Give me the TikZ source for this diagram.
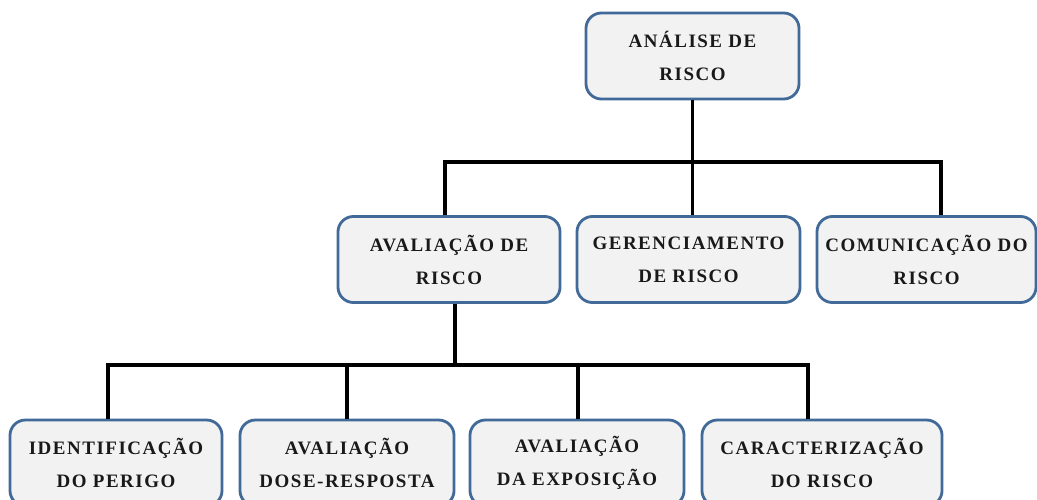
\documentclass[tikz,border=0pt]{standalone}
\usepackage{fontspec}
\setmainfont{Liberation Serif}
\definecolor{bordaazul}{RGB}{65,106,152}
\definecolor{fundocinza}{RGB}{242,242,242}
\tikzset{
  caixa/.style={draw=bordaazul,fill=fundocinza,line width=2pt,rounded corners=11pt,
    align=center,inner sep=0pt,text=black!90,minimum height=2.15cm,
    font=\fontsize{13.5}{23.5}\selectfont\bfseries\addfontfeature{LetterSpace=8}},
  liga/.style={line width=2.6pt}
}

\begin{document}
\begin{tikzpicture}[x=0.025cm,y=-0.025cm]
			\useasboundingbox (0,0) rectangle (1037,499);
			% nivel 1
			\node[caixa,minimum width=5.325cm](analise) at (692.5,56){ANÁLISE DE\\RISCO};
			% nivel 2
			\node[caixa,minimum width=5.55cm](avaliacao) at (449,259.5){AVALIAÇÃO DE\\RISCO};
			\node[caixa,minimum width=5.575cm](gerenc) at (688.5,259.5){GERENCIAMENTO\\DE RISCO};
			\node[caixa,minimum width=5.475cm](comunic) at (926.5,259.5){COMUNICAÇÃO DO\\RISCO};
			% nivel 3
			\node[caixa,minimum width=5.3cm](perigo) at (116,463){IDENTIFICAÇÃO\\DO PERIGO};
			\node[caixa,minimum width=5.35cm](dose) at (347,463){AVALIAÇÃO\\DOSE-RESPOSTA};
			\node[caixa,minimum width=5.35cm](exposicao) at (577,463){AVALIAÇÃO\\DA EXPOSIÇÃO};
			\node[caixa,minimum width=6cm](caract) at (822,463){CARACTERIZAÇÃO\\DO RISCO};
			% ligacoes
			\coordinate (barraA) at (692.5,162);
			\coordinate (a1) at (445,162);
			\coordinate (a3) at (941,162);
			\draw[liga](analise.south)--(barraA);
			\draw[liga](a1|-avaliacao.north)--(a1)--(a3)--(a3|-comunic.north);
			\draw[liga](barraA)--(barraA|-gerenc.north);
			\coordinate (barraB) at (455,365);
			\coordinate (b1) at (108,365);
			\coordinate (b2) at (347,365);
			\coordinate (b3) at (578,365);
			\coordinate (b4) at (808,365);
			\draw[liga](barraB|-avaliacao.south)--(barraB);
			\draw[liga](b1|-perigo.north)--(b1)--(b4)--(b4|-caract.north);
			\draw[liga](b2)--(b2|-dose.north);
			\draw[liga](b3)--(b3|-exposicao.north);
		\end{tikzpicture}
\end{document}
